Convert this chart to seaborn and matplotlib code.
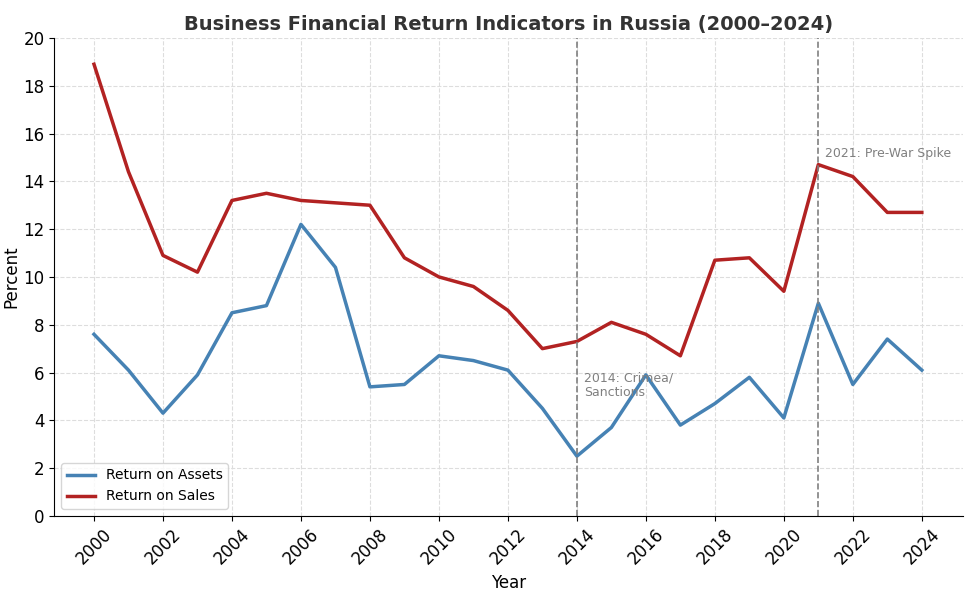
import matplotlib
matplotlib.use("Agg")
import matplotlib.pyplot as plt
import seaborn as sns
import pandas as pd

years = list(range(2000, 2025))
roa = [7.6, 6.1, 4.3, 5.9, 8.5, 8.8, 12.2, 10.4, 5.4, 5.5, 6.7, 6.5, 6.1, 4.5, 2.5, 3.7, 5.9, 3.8, 4.7, 5.8, 4.1, 8.9, 5.5, 7.4, 6.1]
ros = [18.9, 14.4, 10.9, 10.2, 13.2, 13.5, 13.2, 13.1, 13.0, 10.8, 10.0, 9.6, 8.6, 7.0, 7.3, 8.1, 7.6, 6.7, 10.7, 10.8, 9.4, 14.7, 14.2, 12.7, 12.7]

df = pd.DataFrame({"Year": years * 2, "Percent": roa + ros,
                   "Series": ["Return on Assets"] * 25 + ["Return on Sales"] * 25})

fig = plt.figure(figsize=(9.7, 5.93), dpi=100)
ax = fig.add_axes([0.056, 0.13, 0.937, 0.806])
sns.lineplot(data=df, x="Year", y="Percent", hue="Series",
             palette=["#4682b4", "#b22222"], linewidth=2.5, ax=ax)
ax.axvline(2014, color="gray", linestyle="--", linewidth=1.2)
ax.axvline(2021, color="gray", linestyle="--", linewidth=1.2)
ax.text(2014.2, 5.0, "2014: Crimea/\nSanctions", color="gray", fontsize=9)
ax.text(2021.2, 15.0, "2021: Pre-War Spike", color="gray", fontsize=9)
ax.set_xlim(1998.85, 2025.2)
ax.set_ylim(0, 20)
ax.set_xticks(range(2000, 2025, 2))
ax.set_yticks(range(0, 21, 2))
ax.tick_params(axis="x", rotation=45, labelsize=12)
ax.tick_params(axis="y", labelsize=12)
ax.grid(True, linestyle="--", color="#dddddd", linewidth=0.8)
for s in ["top", "right"]:
    ax.spines[s].set_visible(False)
ax.set_xlabel("Year", fontsize=12)
ax.set_ylabel("Percent", fontsize=12, labelpad=2)
ax.set_title("Business Financial Return Indicators in Russia (2000–2024)",
             fontsize=14, fontweight="bold", color="#333333")
ax.legend(title=None, loc="lower left", fontsize=10)
fig.savefig("out.png", dpi=100)
